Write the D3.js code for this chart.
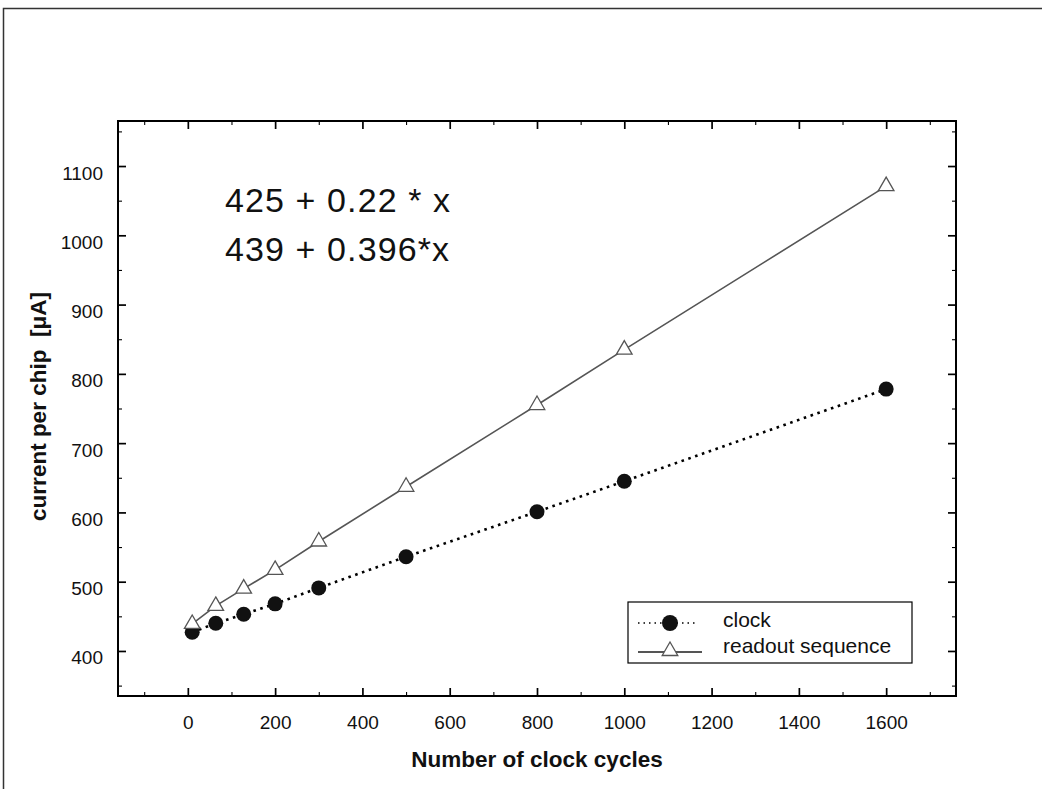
<!DOCTYPE html>
<html lang="en">
<head>
<meta charset="UTF-8">
<title>Current per chip vs clock cycles</title>
<script src="https://d3js.org/d3.v7.min.js"></script>
<style>
    body { margin: 0; background: #fff; }
    svg { display: block; }
    text { font-family: "Liberation Sans", Arial, Helvetica, sans-serif; fill: #111; }
    .axis path { display: none; }
    .axis line { stroke: #000; stroke-width: 1.7; }
    .axis.minor line { stroke-width: 1.1; }
    .axis text { font-size: 19px; }
</style>
</head>
<body>
<svg width="1042" height="789"></svg>
<script>
    // data
    const cycles = [10, 64, 128, 200, 300, 500, 800, 1000, 1600];
    const clockCurrent = [427, 440, 453, 468, 491, 536, 601, 645, 778];
    const readoutCurrent = [439, 465, 490, 517, 558, 637, 755, 835, 1071];

    const xTicks = [0, 200, 400, 600, 800, 1000, 1200, 1400, 1600];
    const xMinor = [-100, 100, 300, 500, 700, 900, 1100, 1300, 1500, 1700];
    const yTicks = [400, 500, 600, 700, 800, 900, 1000, 1100];
    const yMinor = [350, 450, 550, 650, 750, 850, 950, 1050, 1150];

    const seriesNames = ["clock", "readout sequence"];
    const fitLabels = ["425 + 0.22 * x", "439 + 0.396*x"];

    const svg = d3.select("svg");
    const box = {left: 118, right: 956, top: 121, bottom: 696};

    const x = d3.scaleLinear().domain([-160, 1760]).range([box.left, box.right]);
    const y = d3.scaleLinear().domain([335, 1165]).range([box.bottom, box.top]);
    const fmt = d3.format("d");

    // outer page frame
    svg.append("rect")
        .attr("x", 3.5).attr("y", 8.5)
        .attr("width", 1200).attr("height", 900)
        .attr("fill", "none").attr("stroke", "#333").attr("stroke-width", 1.5);

    // axes, ticks pointing inward on all four sides
    const addAxis = (axis, tx, ty, cls) => svg.append("g")
        .attr("class", "axis " + (cls || ""))
        .attr("transform", `translate(${tx},${ty})`)
        .call(axis);

    const gy = addAxis(d3.axisLeft(y).tickValues(yTicks).tickSize(-8).tickPadding(15).tickFormat(fmt), box.left, 0);
    gy.selectAll("text").attr("dy", null).attr("y", 13);
    addAxis(d3.axisLeft(y).tickValues(yMinor).tickSize(-4).tickFormat(""), box.left, 0, "minor");
    addAxis(d3.axisRight(y).tickValues(yTicks).tickSize(-8).tickFormat(""), box.right, 0);
    addAxis(d3.axisRight(y).tickValues(yMinor).tickSize(-4).tickFormat(""), box.right, 0, "minor");

    const gx = addAxis(d3.axisBottom(x).tickValues(xTicks).tickSize(-8).tickFormat(fmt), 0, box.bottom);
    gx.selectAll("text").attr("dy", null).attr("y", 33);
    addAxis(d3.axisBottom(x).tickValues(xMinor).tickSize(-4).tickFormat(""), 0, box.bottom, "minor");
    addAxis(d3.axisTop(x).tickValues(xTicks).tickSize(-8).tickFormat(""), 0, box.top);
    addAxis(d3.axisTop(x).tickValues(xMinor).tickSize(-4).tickFormat(""), 0, box.top, "minor");

    // plot frame
    svg.append("rect")
        .attr("x", box.left).attr("y", box.top)
        .attr("width", box.right - box.left).attr("height", box.bottom - box.top)
        .attr("fill", "none").attr("stroke", "#000").attr("stroke-width", 2);

    // axis titles
    svg.append("text")
        .attr("x", (box.left + box.right) / 2).attr("y", 767)
        .attr("text-anchor", "middle")
        .style("font-size", "22.5px").style("font-weight", "bold")
        .text("Number of clock cycles");

    svg.append("text")
        .attr("transform", `translate(46,${(box.top + box.bottom) / 2 - 2}) rotate(-90)`)
        .attr("text-anchor", "middle")
        .style("font-size", "22.5px").style("font-weight", "bold")
        .attr("xml:space", "preserve")
        .text("current per chip  [\u03bcA]");

    // fit formulas
    svg.selectAll(".fit")
        .data(fitLabels)
        .join("text")
        .attr("class", "fit")
        .attr("x", 225)
        .attr("y", (d, i) => 212 + i * 49)
        .style("font-size", "34px")
        .style("letter-spacing", "1.1px")
        .text(d => d);

    const pts = cycles.map((c, i) => ({c, clock: clockCurrent[i], readout: readoutCurrent[i]}));

    // clock series: dotted line + filled circles
    svg.append("path")
        .datum(pts)
        .attr("fill", "none")
        .attr("stroke", "#000")
        .attr("stroke-width", 2.6)
        .attr("stroke-dasharray", "2.6,4.6")
        .attr("d", d3.line().x(d => x(d.c)).y(d => y(d.clock)));

    svg.selectAll(".clock")
        .data(pts)
        .join("circle")
        .attr("class", "clock")
        .attr("cx", d => x(d.c))
        .attr("cy", d => y(d.clock))
        .attr("r", 7.5)
        .attr("fill", "#111");

    // readout series: solid grey line + open triangles
    svg.append("path")
        .datum(pts)
        .attr("fill", "none")
        .attr("stroke", "#555")
        .attr("stroke-width", 1.6)
        .attr("d", d3.line().x(d => x(d.c)).y(d => y(d.readout)));

    const tri = d3.symbol().type(d3.symbolTriangle).size(105);
    svg.selectAll(".readout")
        .data(pts)
        .join("path")
        .attr("class", "readout")
        .attr("transform", d => `translate(${x(d.c)},${y(d.readout)})`)
        .attr("d", tri)
        .attr("fill", "#fff")
        .attr("stroke", "#555")
        .attr("stroke-width", 1.3);

    // legend
    const lg = svg.append("g").attr("transform", "translate(628,602)");
    lg.append("rect")
        .attr("width", 284).attr("height", 61)
        .attr("fill", "#fff").attr("stroke", "#000").attr("stroke-width", 1.2);

    lg.append("line")
        .attr("x1", 10).attr("x2", 70).attr("y1", 21).attr("y2", 21)
        .attr("stroke", "#000").attr("stroke-width", 1.5).attr("stroke-dasharray", "1.5,4");
    lg.append("circle").attr("cx", 42).attr("cy", 21).attr("r", 8).attr("fill", "#111");

    lg.append("line")
        .attr("x1", 10).attr("x2", 74).attr("y1", 50).attr("y2", 50)
        .attr("stroke", "#555").attr("stroke-width", 2);
    lg.append("path")
        .attr("transform", "translate(42,49)")
        .attr("d", tri)
        .attr("fill", "#fff").attr("stroke", "#555").attr("stroke-width", 1.3);

    lg.selectAll(".lgtext")
        .data(seriesNames)
        .join("text")
        .attr("class", "lgtext")
        .attr("x", 95)
        .attr("y", (d, i) => 25 + i * 26)
        .style("font-size", "21px")
        .text(d => d);
</script>
</body>
</html>
